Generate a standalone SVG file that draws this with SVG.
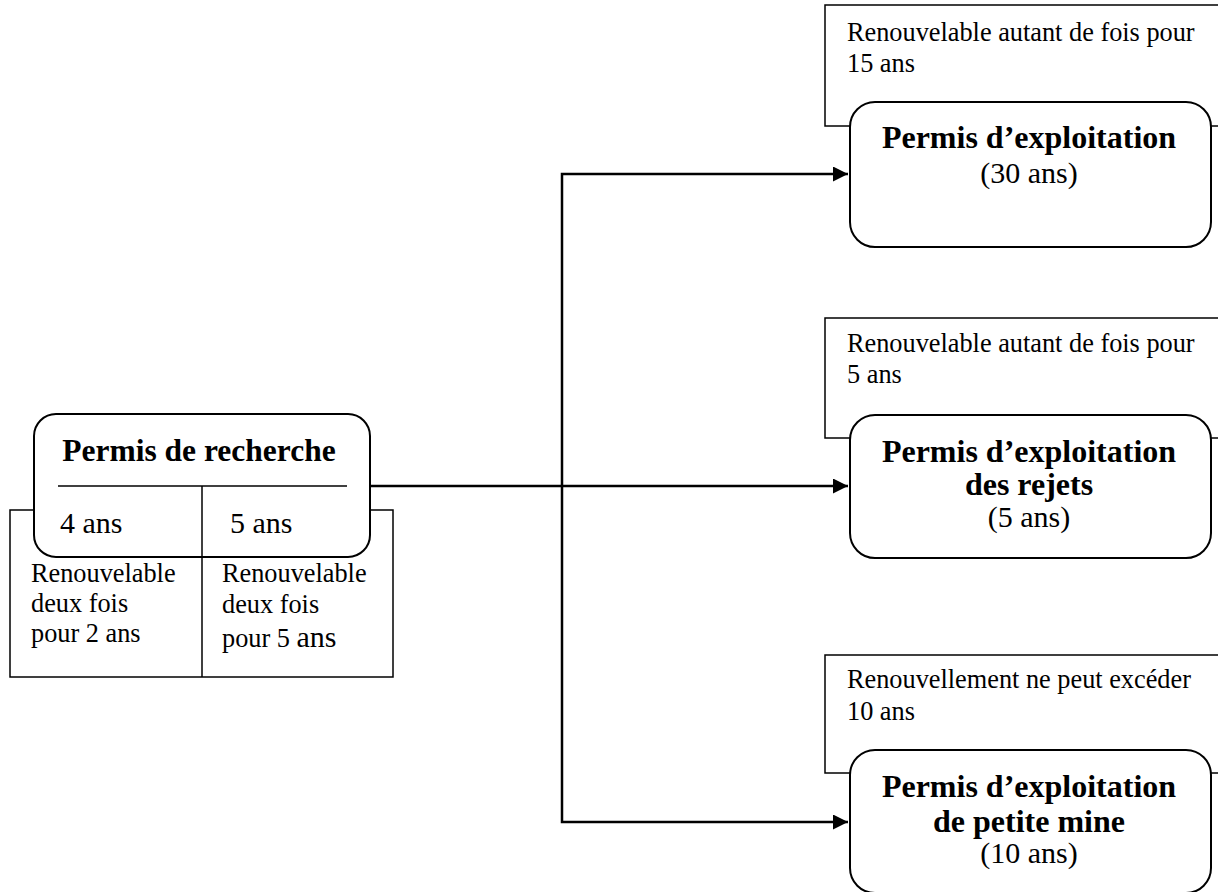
<svg xmlns="http://www.w3.org/2000/svg" width="1218" height="892" viewBox="0 0 1218 892">
<defs>
<style>
.box{fill:#fff;stroke:#000;stroke-width:1.5}
.rbox{fill:#fff;stroke:#000;stroke-width:2}
.ln{fill:none;stroke:#000;stroke-width:1.5}
.conn{fill:none;stroke:#000;stroke-width:2.5}
.t{font-family:"Liberation Serif","Times New Roman",serif;fill:#000}
.b{font-weight:bold;font-size:32px}
.r{font-size:30px}
.s{font-size:26.3px}
</style>
<marker id="arr" markerWidth="16" markerHeight="16" refX="15" refY="7.5" orient="auto" markerUnits="userSpaceOnUse">
<path d="M0,0 L15,7.5 L0,15 Z" fill="#000"/>
</marker>
</defs>
<rect width="1218" height="892" fill="#fff"/>

<g id="connectors">
<path class="conn" d="M370,486 H848" marker-end="url(#arr)"/>
<path class="conn" d="M562,486 V174 H848" marker-end="url(#arr)"/>
<path class="conn" d="M562,486 V822 H848" marker-end="url(#arr)"/>
</g>

<g id="permis-recherche">
<rect class="box" x="10" y="510" width="383" height="167"/>
<rect class="rbox" x="34" y="414" width="336" height="143" rx="22" ry="22"/>
<line class="ln" x1="58" y1="486" x2="347" y2="486"/>
<line class="ln" x1="202" y1="486" x2="202" y2="677"/>
<text class="t b" x="199" y="461" text-anchor="middle" style="font-size:31.5px">Permis de recherche</text>
<text class="t r" x="60" y="533">4 ans</text>
<text class="t r" x="230" y="533">5 ans</text>
<text class="t s" x="31" y="582">Renouvelable</text>
<text class="t s" x="31" y="612">deux fois</text>
<text class="t s" x="31" y="642">pour 2 ans</text>
<text class="t s" x="222" y="582">Renouvelable</text>
<text class="t s" x="222" y="613">deux fois</text>
<text class="t s" x="222" y="647">pour 5 <tspan style="font-size:30px">ans</tspan></text>
</g>

<g id="permis-exploitation">
<rect class="box" x="825" y="5" width="410" height="121"/>
<rect class="rbox" x="850" y="102" width="361" height="145" rx="25" ry="25"/>
<text class="t s" x="847" y="41">Renouvelable autant de fois pour</text>
<text class="t s" x="847" y="72">15 ans</text>
<text class="t b" x="1029" y="148" text-anchor="middle">Permis d’exploitation</text>
<text class="t r" x="1029" y="183" text-anchor="middle">(30 ans)</text>
</g>

<g id="permis-rejets">
<rect class="box" x="825" y="318" width="410" height="120"/>
<rect class="rbox" x="850" y="415" width="361" height="143" rx="25" ry="25"/>
<text class="t s" x="847" y="352">Renouvelable autant de fois pour</text>
<text class="t s" x="847" y="383">5 ans</text>
<text class="t b" x="1029" y="462" text-anchor="middle">Permis d’exploitation</text>
<text class="t b" x="1029" y="495" text-anchor="middle">des rejets</text>
<text class="t r" x="1029" y="527" text-anchor="middle">(5 ans)</text>
</g>

<g id="permis-petite-mine">
<rect class="box" x="825" y="655" width="410" height="118"/>
<rect class="rbox" x="850" y="750" width="361" height="143" rx="25" ry="25"/>
<text class="t s" x="847" y="688">Renouvellement ne peut excéder</text>
<text class="t s" x="847" y="720">10 ans</text>
<text class="t b" x="1029" y="797" text-anchor="middle">Permis d’exploitation</text>
<text class="t b" x="1029" y="832" text-anchor="middle">de petite mine</text>
<text class="t r" x="1029" y="863" text-anchor="middle">(10 ans)</text>
</g>
</svg>
